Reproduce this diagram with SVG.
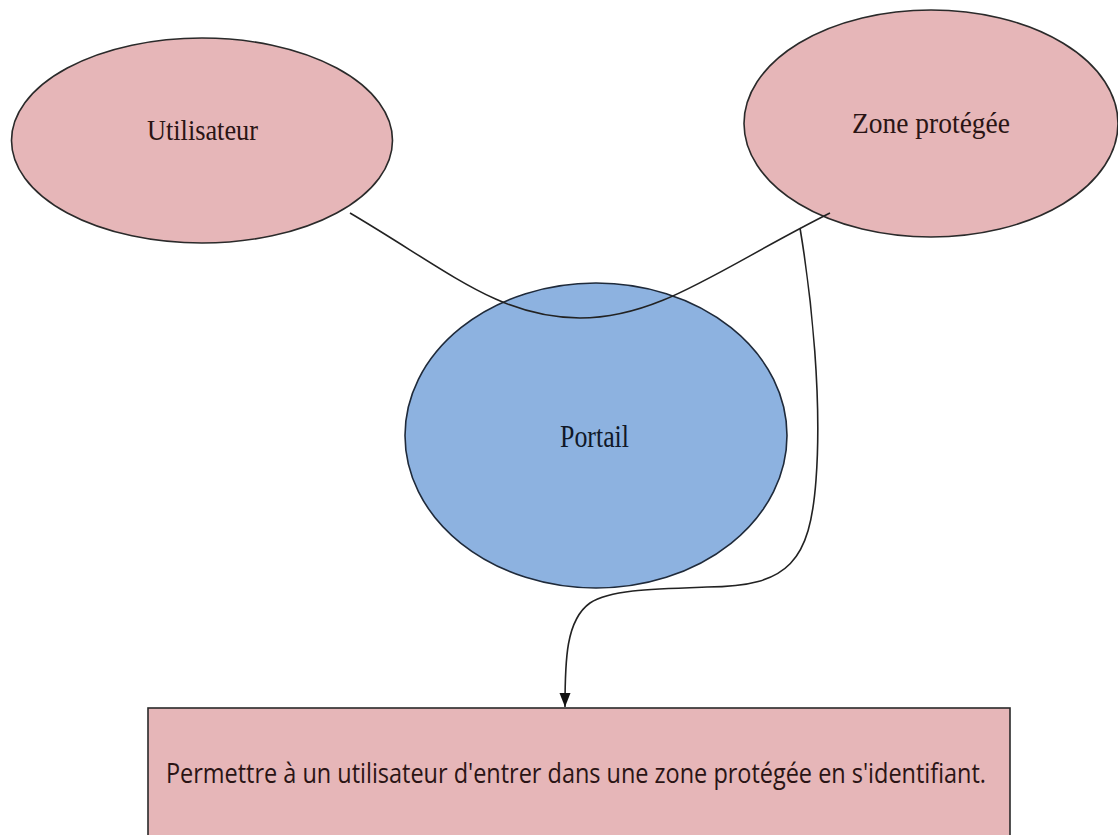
<svg xmlns="http://www.w3.org/2000/svg" width="1118" height="835" viewBox="0 0 1118 835">
<defs>
<style>
.pink{fill:#e6b6b8;stroke:#2a2a2a;stroke-width:1.6}
.blue{fill:#8db2e0;stroke:#1f2a3a;stroke-width:1.6}
.lbl{font-family:"Liberation Serif","Times New Roman",serif;font-size:27px;fill:#2a1414}
.box{font-family:"Open Sans","Liberation Sans",sans-serif;font-size:25px;fill:#2a1414}
.con{fill:none;stroke:#222;stroke-width:1.6}
</style>
<marker id="arr" markerWidth="16" markerHeight="12" refX="14" refY="5.5" orient="auto" markerUnits="userSpaceOnUse">
<path d="M0,0 L14,5.5 L0,11 Z" fill="#111"/>
</marker>
</defs>
<rect width="1118" height="835" fill="#ffffff"/>
<g id="node-utilisateur">
<ellipse class="pink" cx="202" cy="140.5" rx="190.5" ry="102.5"/>
<text class="lbl" transform="translate(147,140) scale(1,1.12)" x="0" y="0" textLength="111" lengthAdjust="spacingAndGlyphs">Utilisateur</text>
</g>
<g id="node-zone">
<ellipse class="pink" cx="931" cy="123.5" rx="187" ry="113.5"/>
<text class="lbl" transform="translate(852,133) scale(1,1.12)" x="0" y="0" textLength="158" lengthAdjust="spacingAndGlyphs">Zone protégée</text>
</g>
<g id="node-portail">
<ellipse class="blue" cx="596" cy="435.5" rx="191" ry="152.5"/>
<text class="lbl" transform="translate(560,447) scale(1,1.18)" x="0" y="0" textLength="69" lengthAdjust="spacingAndGlyphs" style="fill:#101828">Portail</text>
</g>
<g id="node-but">
<rect class="pink" x="148" y="708" width="862" height="140"/>
<text class="box" transform="translate(166,783) scale(1,1.08)" x="0" y="0" textLength="820" lengthAdjust="spacingAndGlyphs">Permettre à un utilisateur d'entrer dans une zone protégée en s'identifiant.</text>
</g>
<g id="connectors">
<path class="con" d="M350,213 C450,272 500,318 580,318 C660,318 720,268 830,213"/>
<path class="con" marker-end="url(#arr)" d="M800,228 C812,300 822,400 816,480 C810,560 790,587 707,587 C650,589 610,590 590,603 C566,620 565,660 565,707"/>
</g>
</svg>
